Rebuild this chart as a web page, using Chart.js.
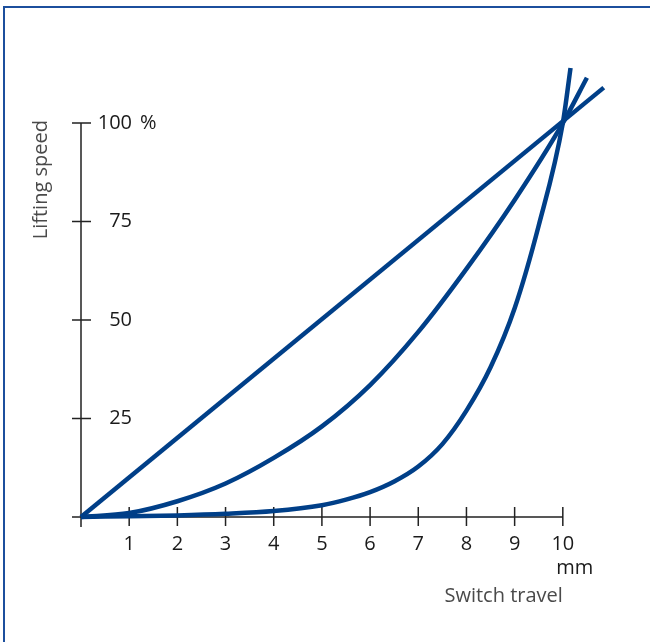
<!DOCTYPE html>
<html>
<head>
<meta charset="utf-8">
<script src="https://cdn.jsdelivr.net/npm/chart.js@4.4.0/dist/chart.umd.min.js"></script>
<style>
  html, body { margin: 0; padding: 0; background: #fff; }
  #wrap { position: relative; width: 650px; height: 642px; overflow: hidden; }
  #frame { position: absolute; left: 3px; top: 6px; width: 800px; height: 800px;
           border-left: 2px solid #1c4f9d; border-top: 2px solid #1c4f9d; box-sizing: border-box; }
  canvas { position: absolute; left: 0; top: 0; }
</style>
</head>
<body>
<div id="wrap">
  <div id="frame"></div>
  <canvas id="c" width="650" height="642"></canvas>
</div>
<script>
// ---- data ----
const linearX = [0, 10.85];
const linearY = [0, 109];

const quadX = [0, 1, 2, 3, 4, 5, 6, 7, 8, 9, 10, 10.5];
const quadY = [0, 1, 4, 8.5, 15, 23, 33.5, 47, 63, 80.5, 100, 111.5];

const steepX = [0, 1, 2, 3, 4, 5, 5.5, 6, 6.5, 7, 7.5, 8, 8.5, 9, 9.5, 10, 10.16];
const steepY = [0, 0.2, 0.4, 0.8, 1.5, 3, 4.4, 6.3, 9, 12.8, 18.5, 27, 38, 53, 74, 100, 114];

const xTickValues = [1, 2, 3, 4, 5, 6, 7, 8, 9, 10];
const xTickLabels = ['1', '2', '3', '4', '5', '6', '7', '8', '9', '10'];
const yTickValues = [25, 50, 75, 100];
const yTickLabels = ['25', '50', '75', '100'];
const yUnit = '%';
const xUnit = 'mm';
const xTitle = 'Switch travel';
const yTitle = 'Lifting speed';

const LINE = '#003f88';
const AXIS = '#222222';
const FONT = '"Open Sans", "Noto Sans", sans-serif';

function pts(xs, ys) { return xs.map((x, i) => ({ x: x, y: ys[i] })); }

const axesPlugin = {
  id: 'customAxes',
  beforeDatasetsDraw(chart) {
    const ctx = chart.ctx;
    const xs = chart.scales.x, ys = chart.scales.y;
    const x0 = xs.getPixelForValue(0), y0 = ys.getPixelForValue(0);
    const xEnd = xs.getPixelForValue(10), yTop = ys.getPixelForValue(100);
    ctx.save();
    ctx.strokeStyle = AXIS;
    ctx.lineWidth = 1.5;
    ctx.beginPath();
    ctx.moveTo(x0, yTop); ctx.lineTo(x0, y0 + 10);
    ctx.moveTo(x0 - 9, y0); ctx.lineTo(xEnd, y0);
    yTickValues.forEach(v => { const p = ys.getPixelForValue(v); ctx.moveTo(x0 - 9, p); ctx.lineTo(x0 + 10, p); });
    xTickValues.forEach(v => { const p = xs.getPixelForValue(v); ctx.moveTo(p, y0 - 10); ctx.lineTo(p, y0 + 9); });
    ctx.stroke();

    ctx.fillStyle = '#1a1a1a';
    ctx.font = '20px ' + FONT;
    ctx.textBaseline = 'middle';
    ctx.textAlign = 'right';
    yTickValues.forEach((v, i) => {
      ctx.fillText(yTickLabels[i], x0 + 51, ys.getPixelForValue(v));
    });
    ctx.textAlign = 'left';
    ctx.fillText(yUnit, x0 + 59, yTop);
    ctx.textAlign = 'center';
    xTickValues.forEach((v, i) => {
      ctx.fillText(xTickLabels[i], xs.getPixelForValue(v), y0 + 27);
    });
    ctx.fillText(xUnit, xEnd + 12, y0 + 51);

    ctx.fillStyle = '#4a4a4a';
    ctx.font = '20px ' + FONT;
    ctx.textAlign = 'right';
    ctx.fillText(xTitle, xEnd, y0 + 79);
    ctx.save();
    ctx.translate(x0 - 40, yTop - 3);
    ctx.rotate(-Math.PI / 2);
    ctx.textAlign = 'right';
    ctx.fillText(yTitle, 0, 0);
    ctx.restore();
    ctx.restore();
  }
};

const ds = (xs, ysv) => ({
  data: pts(xs, ysv),
  borderColor: LINE,
  borderWidth: 4.5,
  pointRadius: 0,
  fill: false,
  cubicInterpolationMode: 'monotone',
  clip: false
});

new Chart(document.getElementById('c'), {
  type: 'line',
  data: { datasets: [ds(linearX, linearY), ds(quadX, quadY), ds(steepX, steepY)] },
  options: {
    responsive: false,
    animation: false,
    layout: { padding: { left: 81, right: 39, top: 64, bottom: 125 } },
    plugins: { legend: { display: false }, tooltip: { enabled: false } },
    scales: {
      x: { type: 'linear', min: 0, max: 11, display: false },
      y: { type: 'linear', min: 0, max: 115, display: false }
    }
  },
  plugins: [axesPlugin]
});
</script>
</body>
</html>
